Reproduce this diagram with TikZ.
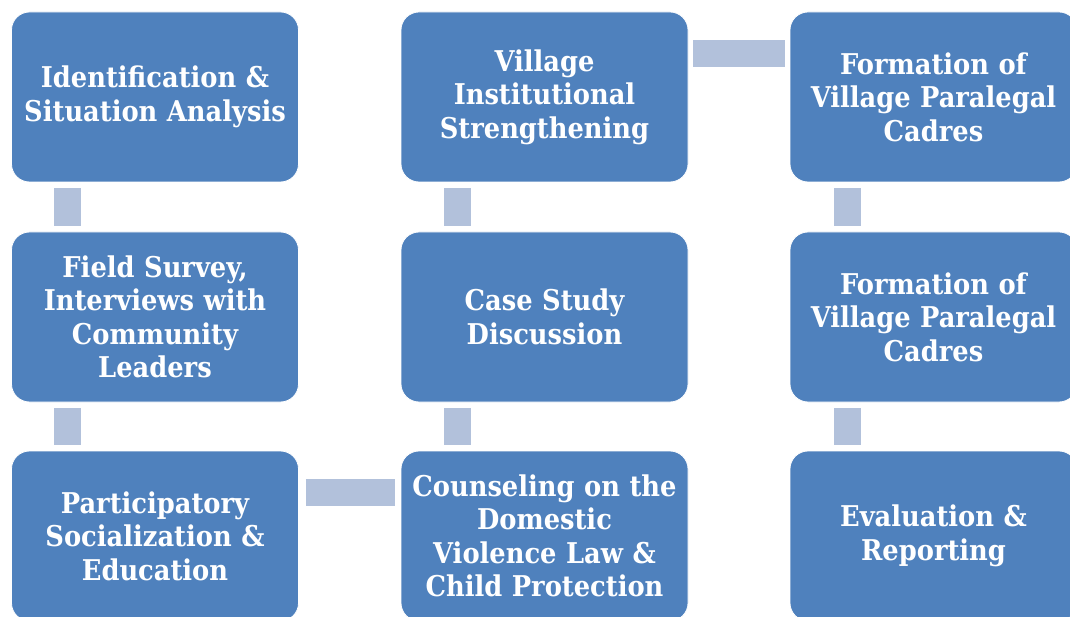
\documentclass[tikz,border=0pt]{standalone}
\usepackage{fontspec}
\setmainfont{DejaVu Serif Condensed}
\usetikzlibrary{calc}
\definecolor{boxblue}{HTML}{4F81BD}
\definecolor{linkblue}{HTML}{B2C1DB}
\tikzset{
  stage/.style={rectangle, rounded corners=18pt, fill=boxblue, draw=white, line width=0.8pt,
    minimum width=287pt, minimum height=170pt, text width=284pt, align=center,
    text=white, font=\fontsize{28.6}{33.5}\selectfont\bfseries, inner sep=0pt},
  link/.style={draw=linkblue, line width=27pt}
}
\begin{document}
\begin{tikzpicture}[x=1pt,y=1pt]
\useasboundingbox (0,0) rectangle (1070,-617);
\fill[white] (0,0) rectangle (1070,-617);
\begin{scope}
\clip (0,0) rectangle (1070,-617);
% column 1
\node[stage] (s1) at (155,-97) {Identification \&\\Situation Analysis};
\node[stage] (s2) at (155,-317) {Field Survey,\\Interviews with\\Community\\Leaders};
\node[stage] (s3) at (155,-536) {Participatory\\Socialization \&\\Education};
% column 2
\node[stage] (s4) at (544.5,-536) {Counseling on the\\Domestic\\Violence Law \&\\Child Protection};
\node[stage] (s5) at (544.5,-317) {Case Study\\Discussion};
\node[stage] (s6) at (544.5,-97) {Village\\Institutional\\Strengthening};
% column 3
\node[stage] (s7) at (933.5,-97) {Formation of\\Village Paralegal\\Cadres};
\node[stage] (s8) at (933.5,-317) {Formation of\\Village Paralegal\\Cadres};
\node[stage] (s9) at (933.5,-536) {Evaluation \&\\Reporting};
% connecting bars
\draw[link] ($(s1.south west)+(56.5,-6)$) -- ($(s2.north west)+(56.5,6)$);
\draw[link] ($(s2.south west)+(56.5,-6)$) -- ($(s3.north west)+(56.5,6)$);
\draw[link] ($(s3.north east)+(7,-41.5)$) -- ($(s4.north west)+(-6,-41.5)$);
\draw[link] ($(s4.north west)+(56.5,6)$) -- ($(s5.south west)+(56.5,-6)$);
\draw[link] ($(s5.north west)+(56.5,6)$) -- ($(s6.south west)+(56.5,-6)$);
\draw[link] ($(s6.north east)+(5,-41.5)$) -- ($(s7.north west)+(-5,-41.5)$);
\draw[link] ($(s7.south west)+(57.5,-6)$) -- ($(s8.north west)+(57.5,6)$);
\draw[link] ($(s8.south west)+(57.5,-6)$) -- ($(s9.north west)+(57.5,6)$);
\end{scope}
\end{tikzpicture}
\end{document}
